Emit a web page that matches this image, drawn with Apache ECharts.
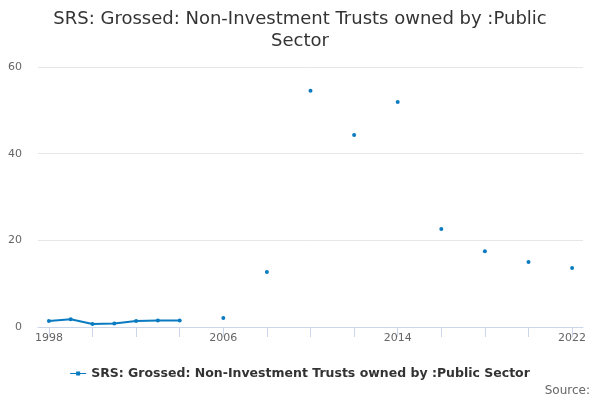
<!DOCTYPE html>
<html>
<head>
<meta charset="utf-8">
<script src="https://cdn.jsdelivr.net/npm/echarts@6/dist/echarts.min.js"></script>
<style>
  html, body { margin: 0; padding: 0; background: #fff; }
  #chart { width: 600px; height: 400px; }
</style>
</head>
<body>
<div id="chart"></div>
<script>
// anni (categorie asse x)
const years = ['1998','1999','2000','2001','2002','2003','2004','2005','2006','2007','2008','2009',
  '2010','2011','2012','2013','2014','2015','2016','2017','2018','2019','2020','2021','2022'];
// valori, null = anno mancante
const values = [1.4, 1.8, 0.7, 0.8, 1.4, 1.5, 1.5, null, 2.1, null, 12.7, null,
  54.5, null, 44.3, null, 51.9, null, 22.6, null, 17.5, null, 15.0, null, 13.6];
const seriesName = 'SRS: Grossed: Non-Investment Trusts owned by :Public Sector';
const titleText = 'SRS: Grossed: Non-Investment Trusts owned by :Public\nSector';

const chart = echarts.init(document.getElementById('chart'));

const option = {
  textStyle: { fontFamily: 'DejaVu Sans' },
  title: {
    text: titleText,
    left: 'center',
    top: 3,
    textStyle: { fontSize: 18, fontWeight: 'normal', color: '#333', lineHeight: 22 }
  },
  legend: {
    data: [{
      name: seriesName,
      icon: 'path://M0,4.5 L6,4.5 L6,3 L10,3 L10,4.5 L16,4.5 L16,5.5 L10,5.5 L10,7 L6,7 L6,5.5 L0,5.5 Z'
    }],
    bottom: 15,
    left: 'center',
    itemWidth: 16,
    itemHeight: 10,
    itemGap: 5,
    textStyle: { fontSize: 12.5, fontWeight: 'bold', color: '#333' }
  },
  graphic: [{
    type: 'text',
    right: 10,
    bottom: 3,
    style: { text: 'Source:', fontSize: 12, fill: '#666', fontFamily: 'DejaVu Sans' }
  }],
  grid: { left: 38, right: 17, top: 67, bottom: 73 },
  xAxis: {
    type: 'category',
    data: years,
    boundaryGap: true,
    axisLine: { lineStyle: { color: '#ccd6eb' } },
    axisTick: { show: true, alignWithLabel: true, interval: 1, length: 10, lineStyle: { color: '#ccd6eb' } },
    axisLabel: { interval: 7, color: '#666', fontSize: 11, margin: 6 }
  },
  yAxis: {
    type: 'value',
    min: 0,
    max: 60,
    interval: 20,
    axisLabel: { color: '#666', fontSize: 11, margin: 16 },
    splitLine: { lineStyle: { color: '#e6e6e6' } }
  },
  series: [{
    name: seriesName,
    type: 'line',
    data: values,
    connectNulls: false,
    symbol: 'circle',
    symbolSize: 4,
    showAllSymbol: true,
    lineStyle: { width: 2, color: '#0a7bc1' },
    itemStyle: { color: '#0a7bc1' }
  }]
};

chart.setOption(option);
</script>
</body>
</html>
